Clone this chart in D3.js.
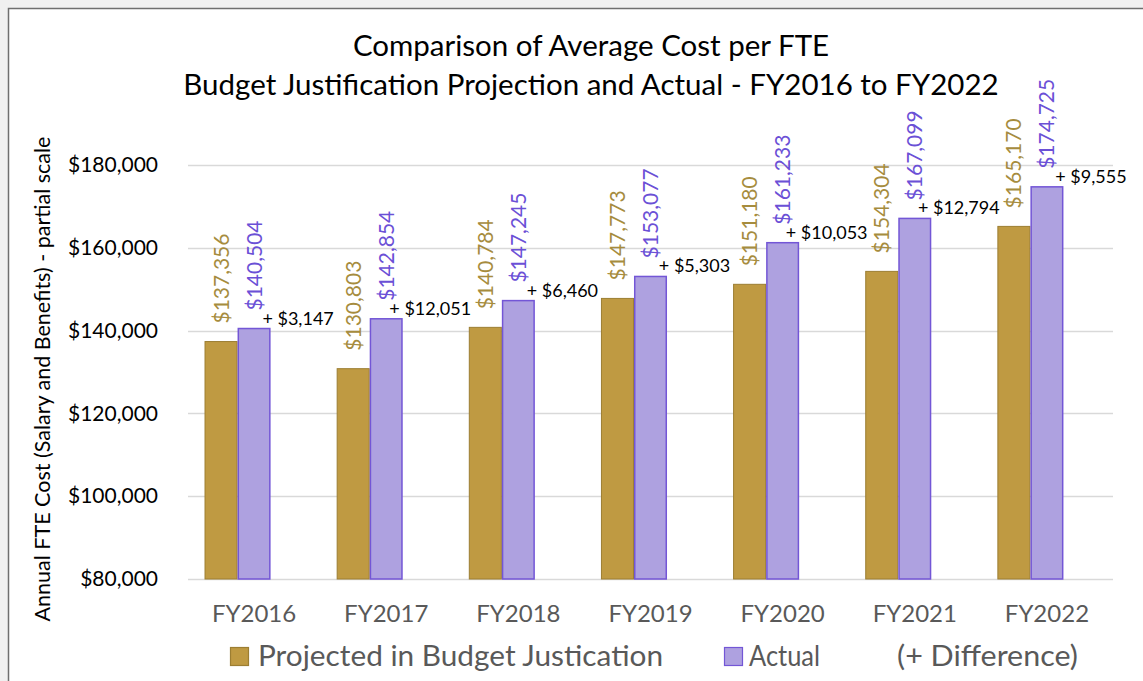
<!DOCTYPE html>
<html>
<head>
<meta charset="utf-8">
<script src="https://cdn.jsdelivr.net/npm/d3@7"></script>
<style>
  html, body { margin: 0; padding: 0; background: #f0f0f0; }
  svg { display: block; font-family: Lato, "Open Sans", sans-serif; }
</style>
</head>
<body>
<svg id="chart" width="1143" height="681"></svg>
<script>
const categories = ["FY2016", "FY2017", "FY2018", "FY2019", "FY2020", "FY2021", "FY2022"];
const projected = [137356, 130803, 140784, 147773, 151180, 154304, 165170];
const actual = [140504, 142854, 147245, 153077, 161233, 167099, 174725];
const difference = [3147, 12051, 6460, 5303, 10053, 12794, 9555];
const yTicks = [80000, 100000, 120000, 140000, 160000, 180000];
const seriesNames = ["Projected in Budget Justication", "Actual", "(+ Difference)"];
const titleLines = ["Comparison of Average Cost per FTE", "Budget Justification Projection and Actual - FY2016 to FY2022"];
const yTitle = "Annual FTE Cost (Salary and Benefits) - partial scale";

const gold = "#BF9A42", goldStroke = "#9C7E32", goldText = "#A68C3E";
const purple = "#AEA1E0", purpleStroke = "#7356D6", purpleText = "#6B50D6";

const svg = d3.select("#chart");
svg.append("rect").attr("x", 8.5).attr("y", 8.5).attr("width", 1300).attr("height", 800)
  .attr("fill", "#fff").attr("stroke", "#6e6e6e").attr("stroke-width", 1.5);

const y = d3.scaleLinear().domain([80000, 180000]).range([579, 165]);
const x0 = d3.scaleBand().domain(categories).range([188, 1113]).paddingInner(0).paddingOuter(0);
const x1 = d3.scaleBand().domain(["p", "a", "d"]).range([0, x0.bandwidth()]).paddingInner(0).paddingOuter(0.5);
const money = d3.format("$,");

// gridlines
svg.append("g").selectAll("line").data(yTicks).join("line")
  .attr("x1", 188).attr("x2", 1113)
  .attr("y1", d => Math.round(y(d)) + 0.5).attr("y2", d => Math.round(y(d)) + 0.5)
  .attr("stroke", "#d9d9d9").attr("stroke-width", 1.3);

// y axis labels
const yAxis = svg.append("g").attr("transform", "translate(168,0)")
  .call(d3.axisLeft(y).tickValues(yTicks).tickSize(0).tickPadding(10).tickFormat(money));
yAxis.select(".domain").remove();
yAxis.selectAll("text").attr("font-family", "Lato, sans-serif").attr("font-size", 21).attr("fill", "#000");

// x axis labels
const xAxis = svg.append("g").attr("transform", "translate(0,579)")
  .call(d3.axisBottom(x0).tickSize(0).tickPadding(26));
xAxis.select(".domain").remove();
xAxis.selectAll("text").attr("font-family", "Lato, sans-serif").attr("font-size", 24).attr("fill", "#595959");

// bars
const groups = svg.append("g").selectAll("g").data(categories).join("g")
  .attr("transform", d => `translate(${x0(d)},0)`);

groups.append("rect")
  .attr("x", (d, i) => x1("p") + 0.5).attr("width", x1.bandwidth() - 1)
  .attr("y", (d, i) => y(projected[i])).attr("height", (d, i) => y(80000) - y(projected[i]))
  .attr("fill", gold).attr("stroke", goldStroke).attr("stroke-width", 1);

groups.append("rect")
  .attr("x", (d, i) => x1("a") + 0.75).attr("width", x1.bandwidth() - 1.5)
  .attr("y", (d, i) => y(actual[i])).attr("height", (d, i) => y(80000) - y(actual[i]))
  .attr("fill", purple).attr("stroke", purpleStroke).attr("stroke-width", 1.5);

// rotated value labels
groups.append("text")
  .attr("transform", (d, i) => `translate(${x1("p") + x1.bandwidth() / 2},${y(projected[i]) - 18}) rotate(-90)`)
  .attr("dy", "0.36em").attr("text-anchor", "start")
  .attr("font-size", 21).attr("fill", goldText)
  .text((d, i) => money(projected[i]));

groups.append("text")
  .attr("transform", (d, i) => `translate(${x1("a") + x1.bandwidth() / 2},${y(actual[i]) - 18}) rotate(-90)`)
  .attr("dy", "0.36em").attr("text-anchor", "start")
  .attr("font-size", 21).attr("fill", purpleText)
  .text((d, i) => money(actual[i]));

// difference labels
groups.append("text")
  .attr("x", x1("d") + x1.bandwidth() / 2 + 11)
  .attr("y", (d, i) => y(actual[i]) - 4)
  .attr("text-anchor", "middle").attr("font-size", 18).attr("fill", "#000")
  .text((d, i) => "+ " + money(difference[i]));

// title
svg.append("g").selectAll("text").data(titleLines).join("text")
  .attr("x", 591).attr("y", (d, i) => 56 + i * 39)
  .attr("text-anchor", "middle").attr("font-size", 29.5).attr("fill", "#000")
  .text(d => d);

// y axis title
svg.append("text")
  .attr("transform", "translate(42,379) rotate(-90)")
  .attr("dy", "0.35em").attr("text-anchor", "middle")
  .attr("font-size", 21.5).attr("fill", "#000")
  .text(yTitle);

// legend
const legendItems = [
  { name: seriesNames[0], fill: gold, stroke: goldStroke, sx: 230, tx: 258, w: 405 },
  { name: seriesNames[1], fill: purple, stroke: purpleStroke, sx: 724, tx: 749, w: 71 },
  { name: seriesNames[2], fill: null, stroke: null, sx: null, tx: 897, w: 181 }
];
const leg = svg.append("g");
legendItems.forEach(it => {
  if (it.fill) {
    leg.append("rect").attr("x", it.sx + 0.5).attr("y", 647.5).attr("width", 18).attr("height", 18)
      .attr("fill", it.fill).attr("stroke", it.stroke).attr("stroke-width", 1.2);
  }
  leg.append("text").attr("x", it.tx).attr("y", 656).attr("dy", "0.36em")
    .attr("font-size", 28).attr("fill", "#595959")
    .attr("textLength", it.w).attr("lengthAdjust", "spacingAndGlyphs")
    .text(it.name);
});
</script>
</body>
</html>
